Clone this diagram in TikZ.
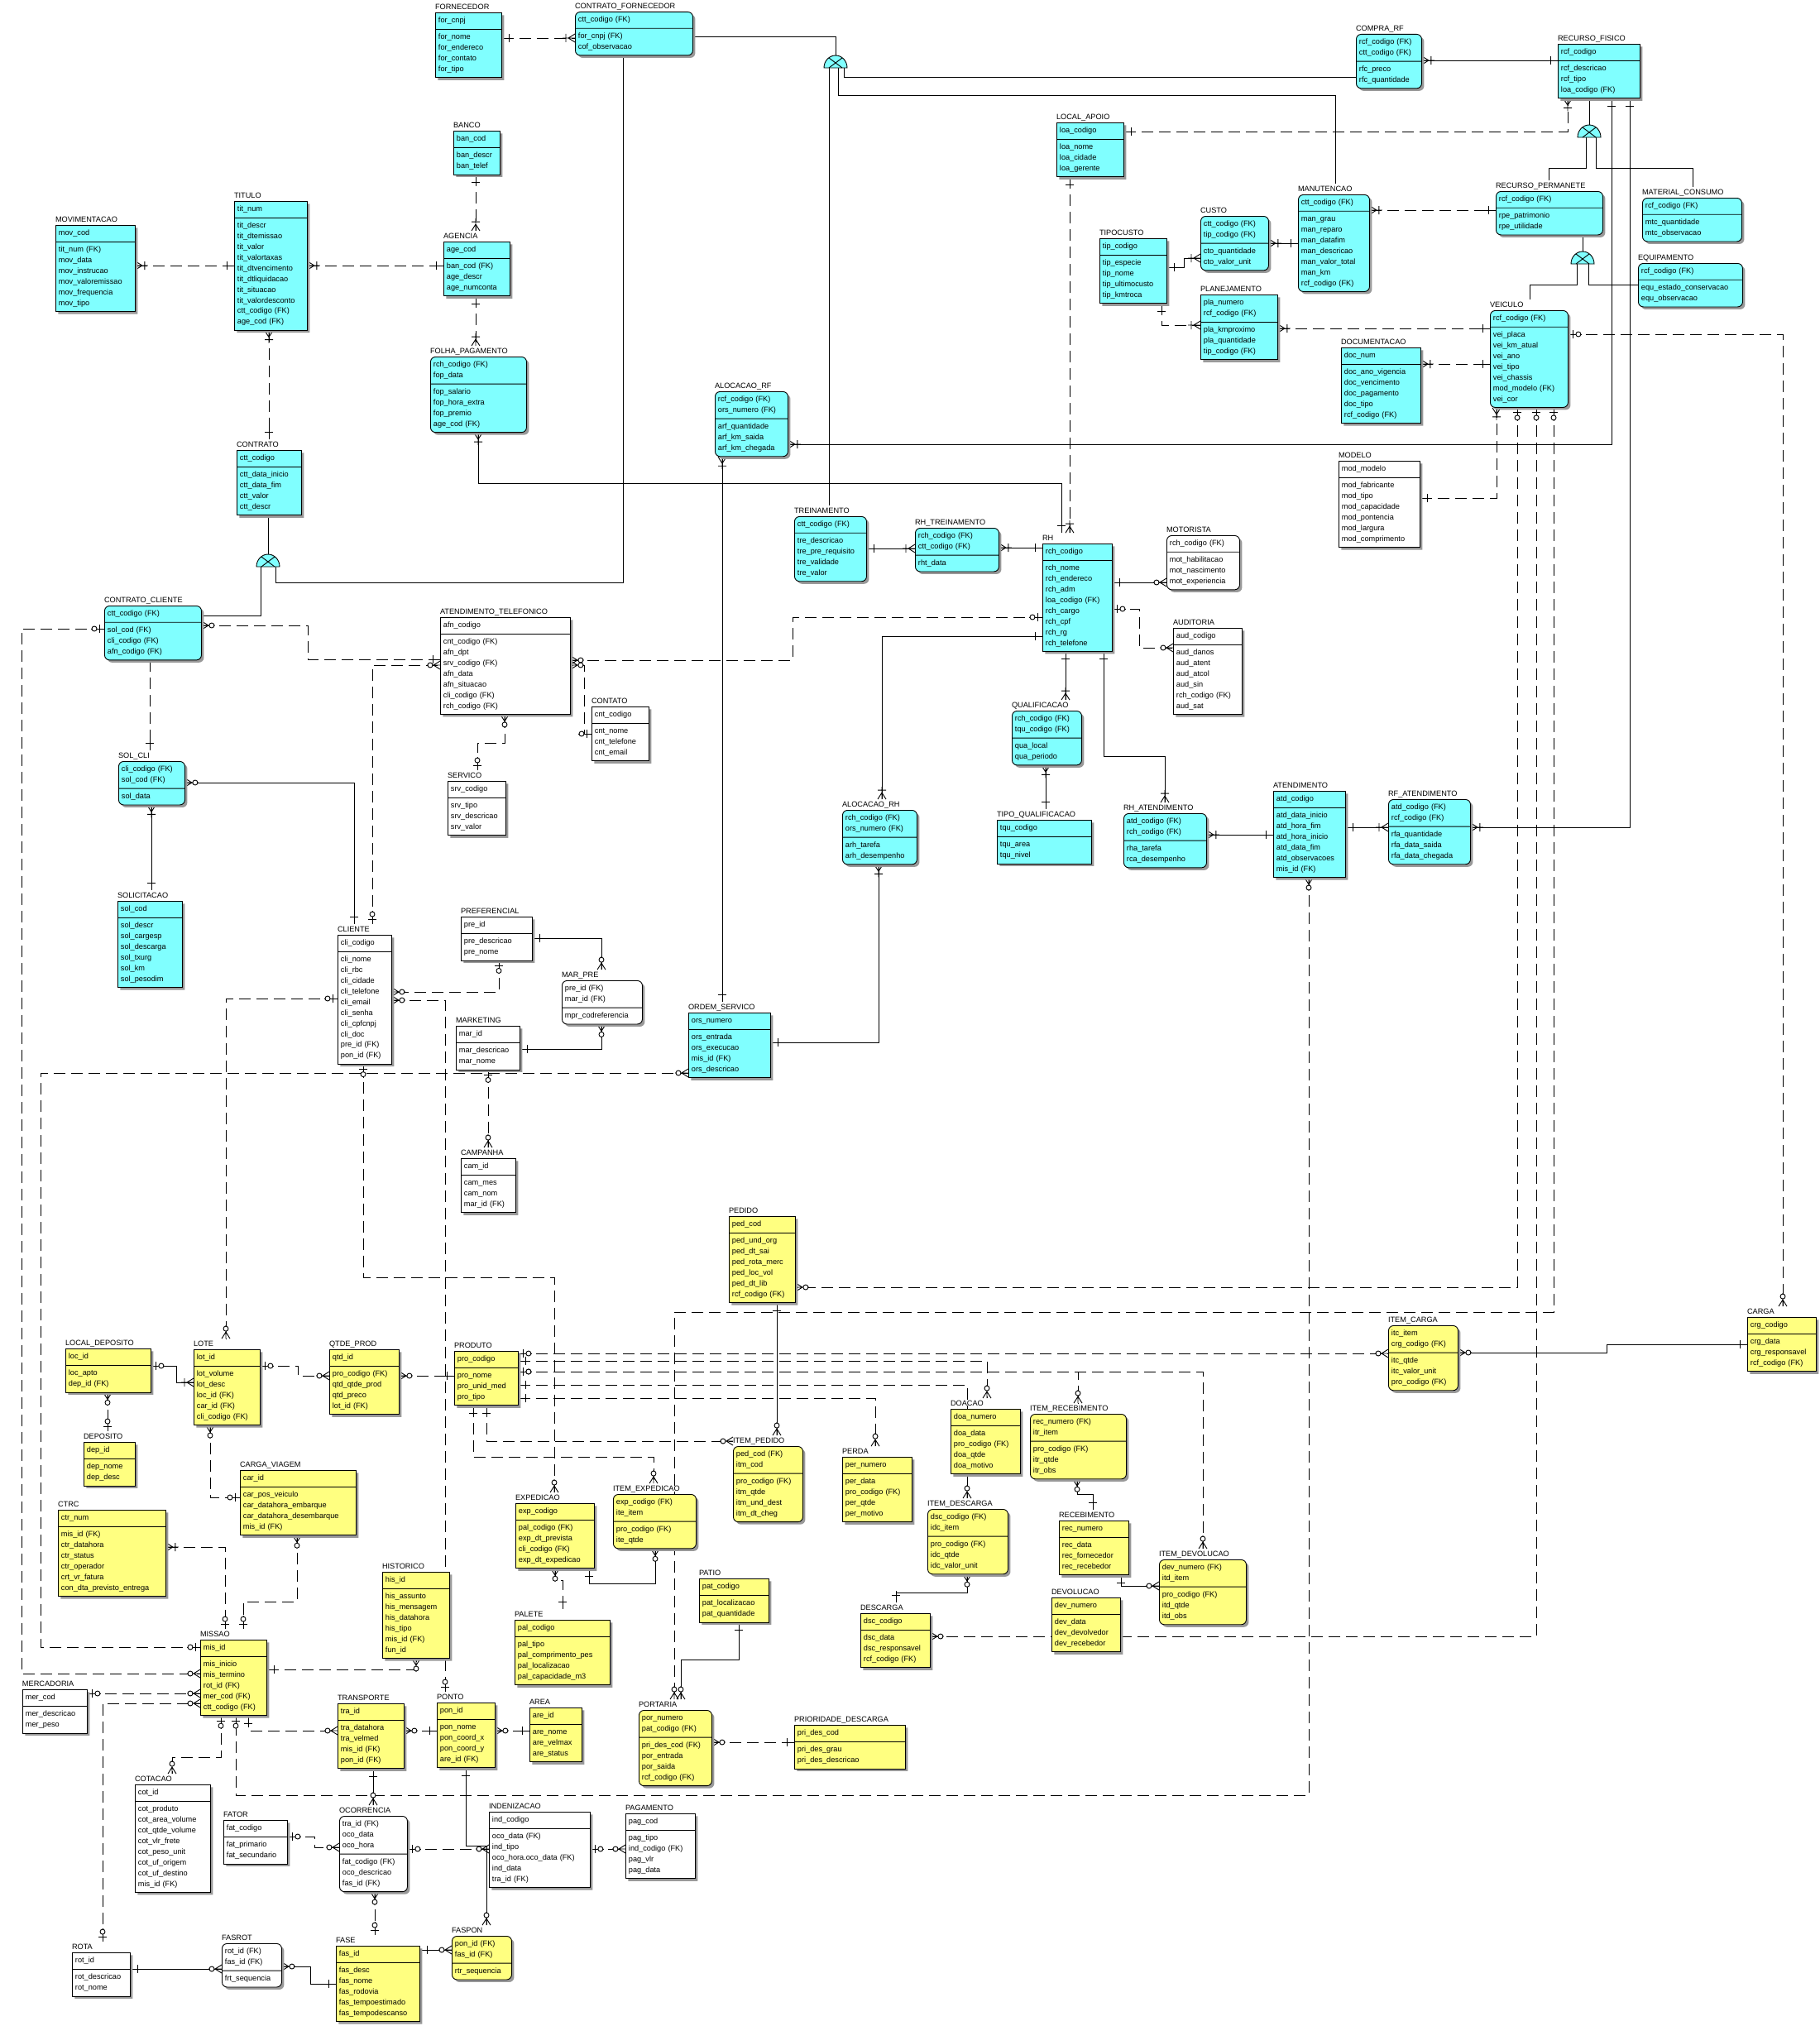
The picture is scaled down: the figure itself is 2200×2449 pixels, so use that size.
\documentclass[tikz,border=0pt]{standalone}
\usepackage{fontspec}
\setmainfont{Liberation Sans}
\usetikzlibrary{arrows.meta, shapes.multipart, shadows, backgrounds}

\definecolor{entcyan}{RGB}{128,255,255}
\definecolor{entyellow}{RGB}{255,255,128}
\newcommand{\entfont}{\fontsize{9.2}{12.9}\selectfont}

\pgfdeclarearrow{
  name = oneE,
  setup code = {\pgfarrowssettipend{0pt}\pgfarrowssetlineend{0pt}\pgfarrowssetbackend{-12pt}},
  drawing code = {\pgfsetdash{}{0pt}
    \pgfpathmoveto{\pgfqpoint{-14pt}{0pt}}\pgfpathlineto{\pgfqpoint{0pt}{0pt}}
    \pgfpathmoveto{\pgfqpoint{-9pt}{5pt}}\pgfpathlineto{\pgfqpoint{-9pt}{-5pt}}
    \pgfusepathqstroke}
}
\pgfdeclarearrow{
  name = onemanyE,
  setup code = {\pgfarrowssettipend{0pt}\pgfarrowssetlineend{0pt}\pgfarrowssetbackend{-14pt}},
  drawing code = {\pgfsetdash{}{0pt}
    \pgfpathmoveto{\pgfqpoint{-15pt}{0pt}}\pgfpathlineto{\pgfqpoint{0pt}{0pt}}
    \pgfpathmoveto{\pgfqpoint{0pt}{5pt}}\pgfpathlineto{\pgfqpoint{-8pt}{0pt}}\pgfpathlineto{\pgfqpoint{0pt}{-5pt}}
    \pgfpathmoveto{\pgfqpoint{-11pt}{5pt}}\pgfpathlineto{\pgfqpoint{-11pt}{-5pt}}
    \pgfusepathqstroke}
}
\pgfdeclarearrow{
  name = zeromanyE,
  setup code = {\pgfarrowssettipend{0pt}\pgfarrowssetlineend{0pt}\pgfarrowssetbackend{-16pt}},
  drawing code = {\pgfsetdash{}{0pt}
    \pgfpathmoveto{\pgfqpoint{-16pt}{0pt}}\pgfpathlineto{\pgfqpoint{0pt}{0pt}}
    \pgfpathmoveto{\pgfqpoint{0pt}{5pt}}\pgfpathlineto{\pgfqpoint{-8pt}{0pt}}\pgfpathlineto{\pgfqpoint{0pt}{-5pt}}
    \pgfusepathqstroke
    \pgfsetfillcolor{white}
    \pgfpathcircle{\pgfqpoint{-12pt}{0pt}}{3pt}
    \pgfusepathqfillstroke}
}
\pgfdeclarearrow{
  name = zerooneE,
  setup code = {\pgfarrowssettipend{0pt}\pgfarrowssetlineend{0pt}\pgfarrowssetbackend{-16pt}},
  drawing code = {\pgfsetdash{}{0pt}
    \pgfpathmoveto{\pgfqpoint{-16pt}{0pt}}\pgfpathlineto{\pgfqpoint{0pt}{0pt}}
    \pgfpathmoveto{\pgfqpoint{-6pt}{5pt}}\pgfpathlineto{\pgfqpoint{-6pt}{-5pt}}
    \pgfusepathqstroke
    \pgfsetfillcolor{white}
    \pgfpathcircle{\pgfqpoint{-12pt}{0pt}}{3pt}
    \pgfusepathqfillstroke}
}

\tikzset{
  ent/.style={rectangle split, rectangle split parts=2, draw, line width=0.9pt,
    inner xsep=3.5pt, inner ysep=3pt, align=left, font=\entfont,
    drop shadow={shadow xshift=3pt, shadow yshift=-3pt, fill=black!40, opacity=1}},
  cyanbox/.style={fill=entcyan},
  yellowbox/.style={fill=entyellow},
  whitebox/.style={fill=white},
  rbox/.style={rounded corners=6pt},
  ttl/.style={font=\entfont, inner sep=0pt, outer xsep=0pt, outer ysep=3pt},
  rel/.style={line width=0.9pt},
  idr/.style={rel},
  nid/.style={rel, dash pattern=on 14pt off 7pt},
}

\newcommand{\entbox}[7]{%
  \node[ent, #1, text width=#4pt, anchor=north west] (#2) at (#3)
    {\strut#6\strut\nodepart{two}\strut#7\strut};
  \node[ttl, anchor=base west] (#2-t) at ([yshift=3.5pt]#2.north west) {#5};
}
\newcommand{\subsym}[2]{%
  \coordinate (#1) at (#2);
  \draw[rel, fill=entcyan] ([xshift=-14pt]#1) arc[start angle=180, end angle=0, x radius=14pt, y radius=15pt] -- cycle;
  \draw[rel] ([xshift=-8pt]#1) -- ([xshift=8pt, yshift=12pt]#1)
             ([xshift=8pt]#1) -- ([xshift=-8pt, yshift=12pt]#1);
}

\begin{document}
\catcode`\_=12
\begin{tikzpicture}[x=1pt, y=-1pt]
\useasboundingbox (0,0) rectangle (2200,2449);

\entbox{cyanbox}{forn}{526,15}{73}{FORNECEDOR}{for_cnpj}{for_nome\\for_endereco\\for_contato\\for_tipo}
\entbox{cyanbox,rbox}{cforn}{695,14}{135}{CONTRATO_FORNECEDOR}{ctt_codigo (FK)}{for_cnpj (FK)\\cof_observacao}
\entbox{cyanbox}{banco}{548,158}{49}{BANCO}{ban_cod}{ban_descr\\ban_telef}
\entbox{cyanbox}{titulo}{283,243}{81}{TITULO}{tit_num}{tit_descr\\tit_dtemissao\\tit_valor\\tit_valortaxas\\tit_dtvencimento\\tit_dtliquidacao\\tit_situacao\\tit_valordesconto\\ctt_codigo (FK)\\age_cod (FK)}
\entbox{cyanbox}{movim}{67,272}{89}{MOVIMENTACAO}{mov_cod}{tit_num (FK)\\mov_data\\mov_instrucao\\mov_valoremissao\\mov_frequencia\\mov_tipo}
\entbox{cyanbox}{agencia}{536,292}{73}{AGENCIA}{age_cod}{ban_cod (FK)\\age_descr\\age_numconta}
\entbox{cyanbox,rbox}{folha}{520,431}{109}{FOLHA_PAGAMENTO}{rch_codigo (FK)\\fop_data}{fop_salario\\fop_hora_extra\\fop_premio\\age_cod (FK)}
\entbox{cyanbox}{contrato}{286,544}{71}{CONTRATO}{ctt_codigo}{ctt_data_inicio\\ctt_data_fim\\ctt_valor\\ctt_descr}
\entbox{cyanbox}{locap}{1277,148}{74}{LOCAL_APOIO}{loa_codigo}{loa_nome\\loa_cidade\\loa_gerente}
\entbox{cyanbox}{tipocusto}{1329,288}{74}{TIPOCUSTO}{tip_codigo}{tip_especie\\tip_nome\\tip_ultimocusto\\tip_kmtroca}
\entbox{cyanbox,rbox}{custo}{1451,261}{75}{CUSTO}{ctt_codigo (FK)\\tip_codigo (FK)}{cto_quantidade\\cto_valor_unit}
\entbox{cyanbox}{plan}{1451,356}{86}{PLANEJAMENTO}{pla_numero\\rcf_codigo (FK)}{pla_kmproximo\\pla_quantidade\\tip_codigo (FK)}
\entbox{cyanbox,rbox}{alocrf}{864,473}{81}{ALOCACAO_RF}{rcf_codigo (FK)\\ors_numero (FK)}{arf_quantidade\\arf_km_saida\\arf_km_chegada}
\entbox{cyanbox,rbox}{comprarf}{1639,41}{72}{COMPRA_RF}{rcf_codigo (FK)\\ctt_codigo (FK)}{rfc_preco\\rfc_quantidade}
\entbox{cyanbox}{recfis}{1883,53}{92}{RECURSO_FISICO}{rcf_codigo}{rcf_descricao\\rcf_tipo\\loa_codigo (FK)}
\entbox{cyanbox,rbox}{recperm}{1808,231}{122}{RECURSO_PERMANETE}{rcf_codigo (FK)}{rpe_patrimonio\\rpe_utilidade}
\entbox{cyanbox,rbox}{matcons}{1985,239}{113}{MATERIAL_CONSUMO}{rcf_codigo (FK)}{mtc_quantidade\\mtc_observacao}
\entbox{cyanbox,rbox}{equip}{1980,318}{119}{EQUIPAMENTO}{rcf_codigo (FK)}{equ_estado_conservacao\\equ_observacao}
\entbox{cyanbox,rbox}{manut}{1569,235}{79}{MANUTENCAO}{ctt_codigo (FK)}{man_grau\\man_reparo\\man_datafim\\man_descricao\\man_valor_total\\man_km\\rcf_codigo (FK)}
\entbox{cyanbox,rbox}{veiculo}{1801,375}{87}{VEICULO}{rcf_codigo (FK)}{vei_placa\\vei_km_atual\\vei_ano\\vei_tipo\\vei_chassis\\mod_modelo (FK)\\vei_cor}
\entbox{cyanbox}{docum}{1621,420}{89}{DOCUMENTACAO}{doc_num}{doc_ano_vigencia\\doc_vencimento\\doc_pagamento\\doc_tipo\\rcf_codigo (FK)}
\entbox{whitebox}{modelo}{1618,557}{91}{MODELO}{mod_modelo}{mod_fabricante\\mod_tipo\\mod_capacidade\\mod_pontencia\\mod_largura\\mod_comprimento}
\entbox{cyanbox,rbox}{cclient}{126,732}{110}{CONTRATO_CLIENTE}{ctt_codigo (FK)}{sol_cod (FK)\\cli_codigo (FK)\\afn_codigo (FK)}
\entbox{whitebox}{atftel}{532,746}{150}{ATENDIMENTO_TELEFONICO}{afn_codigo}{cnt_codigo (FK)\\afn_dpt\\srv_codigo (FK)\\afn_data\\afn_situacao\\cli_codigo (FK)\\rch_codigo (FK)}
\entbox{whitebox}{contato}{715,854}{62}{CONTATO}{cnt_codigo}{cnt_nome\\cnt_telefone\\cnt_email}
\entbox{whitebox}{servico}{541,944}{63}{SERVICO}{srv_codigo}{srv_tipo\\srv_descricao\\srv_valor}
\entbox{cyanbox,rbox}{solcli}{143,920}{73}{SOL_CLI}{cli_codigo (FK)\\sol_cod (FK)}{sol_data}
\entbox{cyanbox}{solic}{142,1089}{71}{SOLICITACAO}{sol_cod}{sol_descr\\sol_cargesp\\sol_descarga\\sol_txurg\\sol_km\\sol_pesodim}
\entbox{whitebox}{cliente}{408,1130}{58}{CLIENTE}{cli_codigo}{cli_nome\\cli_rbc\\cli_cidade\\cli_telefone\\cli_email\\cli_senha\\cli_cpfcnpj\\cli_doc\\pre_id (FK)\\pon_id (FK)}
\entbox{whitebox}{pref}{557,1108}{79}{PREFERENCIAL}{pre_id}{pre_descricao\\pre_nome}
\entbox{whitebox,rbox}{marpre}{679,1185}{90}{MAR_PRE}{pre_id (FK)\\mar_id (FK)}{mpr_codreferencia}
\entbox{whitebox}{marketing}{551,1240}{70}{MARKETING}{mar_id}{mar_descricao\\mar_nome}
\entbox{whitebox}{campanha}{557,1400}{59}{CAMPANHA}{cam_id}{cam_mes\\cam_nom\\mar_id (FK)}
\entbox{cyanbox,rbox}{treino}{960,624}{80}{TREINAMENTO}{ctt_codigo (FK)}{tre_descricao\\tre_pre_requisito\\tre_validade\\tre_valor}
\entbox{cyanbox,rbox}{rhtreino}{1106,638}{94}{RH_TREINAMENTO}{rch_codigo (FK)\\ctt_codigo (FK)}{rht_data}
\entbox{cyanbox}{rh}{1260,657}{77}{RH}{rch_codigo}{rch_nome\\rch_endereco\\rch_adm\\loa_codigo (FK)\\rch_cargo\\rch_cpf\\rch_rg\\rch_telefone}
\entbox{whitebox,rbox}{motorista}{1410,647}{81}{MOTORISTA}{rch_codigo (FK)}{mot_habilitacao\\mot_nascimento\\mot_experiencia}
\entbox{whitebox}{auditoria}{1418,759}{76}{AUDITORIA}{aud_codigo}{aud_danos\\aud_atent\\aud_atcol\\aud_sin\\rch_codigo (FK)\\aud_sat}
\entbox{cyanbox,rbox}{alocrh}{1018,979}{83}{ALOCACAO_RH}{rch_codigo (FK)\\ors_numero (FK)}{arh_tarefa\\arh_desempenho}
\entbox{cyanbox,rbox}{qualif}{1223,859}{77}{QUALIFICACAO}{rch_codigo (FK)\\tqu_codigo (FK)}{qua_local\\qua_periodo}
\entbox{cyanbox}{tipoqual}{1205,991}{107}{TIPO_QUALIFICACAO}{tqu_codigo}{tqu_area\\tqu_nivel}
\entbox{cyanbox,rbox}{rhatend}{1358,983}{93}{RH_ATENDIMENTO}{atd_codigo (FK)\\rch_codigo (FK)}{rha_tarefa\\rca_desempenho}
\entbox{cyanbox}{atend}{1539,956}{80}{ATENDIMENTO}{atd_codigo}{atd_data_inicio\\atd_hora_fim\\atd_hora_inicio\\atd_data_fim\\atd_observacoes\\mis_id (FK)}
\entbox{cyanbox,rbox}{rfatend}{1678,966}{92}{RF_ATENDIMENTO}{atd_codigo (FK)\\rcf_codigo (FK)}{rfa_quantidade\\rfa_data_saida\\rfa_data_chegada}
\entbox{cyanbox}{ordserv}{832,1224}{92}{ORDEM_SERVICO}{ors_numero}{ors_entrada\\ors_execucao\\mis_id (FK)\\ors_descricao}
\entbox{yellowbox,rbox}{itemcarga}{1678,1602}{77}{ITEM_CARGA}{itc_item\\crg_codigo (FK)}{itc_qtde\\itc_valor_unit\\pro_codigo (FK)}
\entbox{yellowbox}{carga}{2112,1592}{76}{CARGA}{crg_codigo}{crg_data\\crg_responsavel\\rcf_codigo (FK)}
\entbox{yellowbox}{locdep}{79,1630}{96}{LOCAL_DEPOSITO}{loc_id}{loc_apto\\dep_id (FK)}
\entbox{yellowbox}{lote}{234,1631}{73}{LOTE}{lot_id}{lot_volume\\lot_desc\\loc_id (FK)\\car_id (FK)\\cli_codigo (FK)}
\entbox{yellowbox}{qtdeprod}{398,1631}{77}{QTDE_PROD}{qtd_id}{pro_codigo (FK)\\qtd_qtde_prod\\qtd_preco\\lot_id (FK)}
\entbox{yellowbox}{produto}{549,1633}{70}{PRODUTO}{pro_codigo}{pro_nome\\pro_unid_med\\pro_tipo}
\entbox{yellowbox}{deposito}{101,1743}{55}{DEPOSITO}{dep_id}{dep_nome\\dep_desc}
\entbox{yellowbox}{cargaviagem}{290,1777}{133}{CARGA_VIAGEM}{car_id}{car_pos_veiculo\\car_datahora_embarque\\car_datahora_desembarque\\mis_id (FK)}
\entbox{yellowbox}{expedicao}{623,1817}{88}{EXPEDICAO}{exp_codigo}{pal_codigo (FK)\\exp_dt_prevista\\cli_codigo (FK)\\exp_dt_expedicao}
\entbox{yellowbox}{ctrc}{70,1825}{123}{CTRC}{ctr_num}{mis_id (FK)\\ctr_datahora\\ctr_status\\ctr_operador\\crt_vr_fatura\\con_dta_previsto_entrega}
\entbox{yellowbox}{pedido}{881,1470}{73}{PEDIDO}{ped_cod}{ped_und_org\\ped_dt_sai\\ped_rota_merc\\ped_loc_vol\\ped_dt_lib\\rcf_codigo (FK)}
\entbox{yellowbox,rbox}{itempedido}{886,1748}{77}{ITEM_PEDIDO}{ped_cod (FK)\\itm_cod}{pro_codigo (FK)\\itm_qtde\\itm_und_dest\\itm_dt_cheg}
\entbox{yellowbox}{perda}{1018,1761}{77}{PERDA}{per_numero}{per_data\\pro_codigo (FK)\\per_qtde\\per_motivo}
\entbox{yellowbox}{doacao}{1149,1703}{77}{DOACAO}{doa_numero}{doa_data\\pro_codigo (FK)\\doa_qtde\\doa_motivo}
\entbox{yellowbox,rbox}{itemreceb}{1245,1709}{109}{ITEM_RECEBIMENTO}{rec_numero (FK)\\itr_item}{pro_codigo (FK)\\itr_qtde\\itr_obs}
\entbox{yellowbox,rbox}{itemdesc}{1121,1824}{90}{ITEM_DESCARGA}{dsc_codigo (FK)\\idc_item}{pro_codigo (FK)\\idc_qtde\\idc_valor_unit}
\entbox{yellowbox}{receb}{1280,1838}{77}{RECEBIMENTO}{rec_numero}{rec_data\\rec_fornecedor\\rec_recebedor}
\entbox{yellowbox,rbox}{itemdevol}{1401,1885}{98}{ITEM_DEVOLUCAO}{dev_numero (FK)\\itd_item}{pro_codigo (FK)\\itd_qtde\\itd_obs}
\entbox{yellowbox}{devol}{1271,1931}{76}{DEVOLUCAO}{dev_numero}{dev_data\\dev_devolvedor\\dev_recebedor}
\entbox{yellowbox}{descarga}{1040,1950}{77}{DESCARGA}{dsc_codigo}{dsc_data\\dsc_responsavel\\rcf_codigo (FK)}
\entbox{yellowbox,rbox}{itemexp}{741,1806}{93}{ITEM_EXPEDICAO}{exp_codigo (FK)\\ite_item}{pro_codigo (FK)\\ite_qtde}
\entbox{yellowbox}{patio}{845,1908}{77}{PATIO}{pat_codigo}{pat_localizacao\\pat_quantidade}
\entbox{yellowbox,rbox}{portaria}{772,2067}{81}{PORTARIA}{por_numero\\pat_codigo (FK)}{pri_des_cod (FK)\\por_entrada\\por_saida\\rcf_codigo (FK)}
\entbox{yellowbox}{prioridade}{960,2085}{127}{PRIORIDADE_DESCARGA}{pri_des_cod}{pri_des_grau\\pri_des_descricao}
\entbox{yellowbox}{palete}{622,1958}{108}{PALETE}{pal_codigo}{pal_tipo\\pal_comprimento_pes\\pal_localizacao\\pal_capacidade_m3}
\entbox{yellowbox}{missao}{242,1982}{73}{MISSAO}{mis_id}{mis_inicio\\mis_termino\\rot_id (FK)\\mer_cod (FK)\\ctt_codigo (FK)}
\entbox{yellowbox}{historico}{462,1900}{74}{HISTORICO}{his_id}{his_assunto\\his_mensagem\\his_datahora\\his_tipo\\mis_id (FK)\\fun_id}
\entbox{whitebox}{mercadoria}{27,2042}{71}{MERCADORIA}{mer_cod}{mer_descricao\\mer_peso}
\entbox{yellowbox}{transporte}{408,2059}{73}{TRANSPORTE}{tra_id}{tra_datahora\\tra_velmed\\mis_id (FK)\\pon_id (FK)}
\entbox{yellowbox}{ponto}{528,2058}{63}{PONTO}{pon_id}{pon_nome\\pon_coord_x\\pon_coord_y\\are_id (FK)}
\entbox{yellowbox}{area}{640,2064}{56}{AREA}{are_id}{are_nome\\are_velmax\\are_status}
\entbox{whitebox,rbox}{ocorrencia}{410,2195}{75}{OCORRENCIA}{tra_id (FK)\\oco_data\\oco_hora}{fat_codigo (FK)\\oco_descricao\\fas_id (FK)}
\entbox{whitebox}{fator}{270,2200}{70}{FATOR}{fat_codigo}{fat_primario\\fat_secundario}
\entbox{whitebox}{indeniz}{591,2190}{115}{INDENIZACAO}{ind_codigo}{oco_data (FK)\\ind_tipo\\oco_hora.oco_data (FK)\\ind_data\\tra_id (FK)}
\entbox{whitebox}{pagamento}{756,2192}{77}{PAGAMENTO}{pag_cod}{pag_tipo\\ind_codigo (FK)\\pag_vlr\\pag_data}
\entbox{whitebox}{cotacao}{163,2157}{84}{COTACAO}{cot_id}{cot_produto\\cot_area_volume\\cot_qtde_volume\\cot_vlr_frete\\cot_peso_unit\\cot_uf_origem\\cot_uf_destino\\mis_id (FK)}
\entbox{whitebox}{rota}{87,2360}{63}{ROTA}{rot_id}{rot_descricao\\rot_nome}
\entbox{whitebox,rbox}{fasrot}{268,2349}{65}{FASROT}{rot_id (FK)\\fas_id (FK)}{frt_sequencia}
\entbox{yellowbox}{fase}{406,2352}{94}{FASE}{fas_id}{fas_desc\\fas_nome\\fas_rodovia\\fas_tempoestimado\\fas_tempodescanso}
\entbox{yellowbox,rbox}{faspon}{546,2340}{65}{FASPON}{pon_id (FK)\\fas_id (FK)}{rtr_sequencia}

\subsym{stcf}{1010,82}
\subsym{stct}{324,685}
\subsym{strf}{1921,166}
\subsym{strp}{1913,319}

\begin{scope}[on background layer]
\fill[white] (0,0) rectangle (2200,2449);
% subtypes
\draw[rel] (cforn.east |- 0,44) -| ([yshift=15pt]stcf);
\draw[rel] ([xshift=-8pt]stcf) -- (treino-t.north -| 1002,0);
\draw[rel] ([xshift=10pt]stcf) |- (comprarf.west |- 0,93);
\draw[rel] ([xshift=3pt]stcf) |- (1614,115) -- (manut-t.north -| 1614,0);
\draw[rel] (contrato.south -| 324,0) -- ([yshift=15pt]stct);
\draw[rel] ([xshift=-9pt]stct) |- (cclient.east |- 0,744);
\draw[rel] ([xshift=9pt]stct) |- (753,704) -- (cforn.south -| 753,0);
\draw[rel] (recfis.south -| 1921,0) -- ([yshift=15pt]strf);
\draw[rel] ([xshift=-4pt]strf) |- (1872,203) -- (recperm-t.north -| 1872,0);
\draw[rel] ([xshift=8pt]strf) |- (2046,203) -- (matcons-t.north -| 2046,0);
\draw[rel] (recperm.south -| 1913,0) -- ([yshift=15pt]strp);
\draw[rel] ([xshift=-7pt]strp) |- (1849,344) -- (veiculo-t.north -| 1849,0);
\draw[rel] ([xshift=7pt]strp) |- (equip.west |- 0,344);
% relationships
\draw[nid, {oneE}-{onemanyE}] (forn.east |- 0,46) -- (cforn.west |- 0,46);
\draw[nid, {onemanyE}-{oneE}] (movim.east |- 0,321) -- (titulo.west |- 0,321);
\draw[nid, {onemanyE}-{oneE}] (titulo.east |- 0,321) -- (agencia.west |- 0,321);
\draw[nid, {oneE}-{onemanyE}] (banco.south -| 575,0) -- (agencia-t.north -| 575,0);
\draw[nid, {oneE}-{onemanyE}] (agencia.south -| 575,0) -- (folha-t.north -| 575,0);
\draw[nid, {onemanyE}-{oneE}] (titulo.south -| 325,0) -- (contrato-t.north -| 325,0);
\draw[idr, {onemanyE}-{oneE}] (folha.south -| 578,0) |- (1283,584) -- (rh-t.north -| 1283,0);
\draw[nid, {oneE}-{onemanyE}] (locap.south -| 1293,0) -- (rh-t.north -| 1293,0);
\draw[nid, {oneE}-{onemanyE}] (locap.east |- 0,159) -| (recfis.south -| 1895,0);
\draw[idr, {onemanyE}-{oneE}] (comprarf.east |- 0,73) -- (recfis.west |- 0,73);
\draw[idr, {oneE}-{onemanyE}] (recfis.south -| 1948,0) |- (alocrf.east |- 0,537);
\draw[idr, {oneE}-{onemanyE}] (recfis.south -| 1970,0) |- (rfatend.east |- 0,1000);
\draw[idr, {oneE}-{onemanyE}] (tipocusto.east |- 0,323) -| (1431,312) -- (custo.west |- 0,312);
\draw[nid, {oneE}-{onemanyE}] (tipocusto.south -| 1404,0) |- (plan.west |- 0,393);
\draw[idr, {onemanyE}-{oneE}] (custo.east |- 0,294) -- (manut.west |- 0,294);
\draw[nid, {onemanyE}-{oneE}] (manut.east |- 0,254) -- (recperm.west |- 0,254);
\draw[nid, {onemanyE}-{oneE}] (plan.east |- 0,397) -- (veiculo.west |- 0,397);
\draw[nid, {onemanyE}-{oneE}] (docum.east |- 0,440) -- (veiculo.west |- 0,440);
\draw[nid, {oneE}-{onemanyE}] (modelo.east |- 0,602) -| (veiculo.south -| 1809,0);
\draw[nid, {zerooneE}-{zeromanyE}] (veiculo.east |- 0,404) -| (carga-t.north -| 2155,0);
\draw[nid, {zerooneE}-{zeromanyE}] (veiculo.south -| 1834,0) |- (pedido.east |- 0,1556);
\draw[nid, {zerooneE}-{zeromanyE}] (veiculo.south -| 1857,0) |- (descarga.east |- 0,1978);
\draw[nid, {zerooneE}-{zeromanyE}] (veiculo.south -| 1878,0) |- (815,1586) -- (portaria-t.north -| 815,0);
\draw[idr, {onemanyE}-{oneE}] (alocrf.south -| 873,0) -- (ordserv-t.north -| 873,0);
\draw[idr, {oneE}-{onemanyE}] (ordserv.east |- 0,1260) -| (alocrh.south -| 1062,0);
\draw[idr, {oneE}-{onemanyE}] (treino.east |- 0,663) -- (rhtreino.west |- 0,663);
\draw[idr, {onemanyE}-{oneE}] (rhtreino.east |- 0,662) -- (rh.west |- 0,662);
\draw[idr, {oneE}-{zeromanyE}] (rh.east |- 0,704) -- (motorista.west |- 0,704);
\draw[nid, {zerooneE}-{zeromanyE}] (rh.east |- 0,736) -| (1377,783) -- (auditoria.west |- 0,783);
\draw[idr, {oneE}-{onemanyE}] (rh.west |- 0,769) -| (alocrh-t.north -| 1066,0);
\draw[idr, {oneE}-{onemanyE}] (rh.south -| 1288,0) -- (qualif-t.north -| 1288,0);
\draw[idr, {onemanyE}-{oneE}] (qualif.south -| 1264,0) -- (tipoqual-t.north -| 1264,0);
\draw[idr, {oneE}-{onemanyE}] (rh.south -| 1334,0) |- (1408,914) -- (rhatend-t.north -| 1408,0);
\draw[idr, {onemanyE}-{oneE}] (rhatend.east |- 0,1009) -- (atend.west |- 0,1009);
\draw[idr, {oneE}-{onemanyE}] (atend.east |- 0,1000) -- (rfatend.west |- 0,1000);
\draw[nid, {zeromanyE}-{zerooneE}] (atend.south -| 1582,0) |- (285,2170) -- (missao.south -| 285,0);
\draw[nid, {zerooneE}-{zeromanyE}] (rh.west |- 0,746) -| (958,798) -- (atftel.east |- 0,798);
\draw[nid, {zerooneE}-{zeromanyE}] (contato.west |- 0,887) -| (706,804) -- (atftel.east |- 0,804);
\draw[nid, {zerooneE}-{zeromanyE}] (servico-t.north -| 577,0) |- (610,898) -- (atftel.south -| 610,0);
\draw[nid, {oneE}-{zeromanyE}] (atftel.west |- 0,797) -| (372,756) -- (cclient.east |- 0,756);
\draw[nid, {zerooneE}-{zeromanyE}] (cliente-t.north -| 450,0) |- (atftel.west |- 0,804);
\draw[nid, {zerooneE}-{zeromanyE}] (cclient.west |- 0,760) -| (26,2023) -- (missao.west |- 0,2023);
\draw[nid, -{oneE}] (cclient.south -| 181,0) -- (solcli-t.north -| 181,0);
\draw[idr, {zeromanyE}-{oneE}] (solcli.east |- 0,946) -| (cliente-t.north -| 428,0);
\draw[idr, {onemanyE}-{oneE}] (solcli.south -| 183,0) -- (solic-t.north -| 183,0);
\draw[idr, {oneE}-{zeromanyE}] (pref.east |- 0,1134) -| (marpre-t.north -| 727,0);
\draw[idr, {oneE}-{zeromanyE}] (marketing.east |- 0,1268) -| (marpre.south -| 727,0);
\draw[nid, {zerooneE}-{zeromanyE}] (pref.south -| 603,0) |- (cliente.east |- 0,1199);
\draw[nid, {zeromanyE}-{zerooneE}] (cliente.east |- 0,1209) -| (ponto-t.north -| 538,0);
\draw[nid, {zerooneE}-{zeromanyE}] (cliente.west |- 0,1207) -| (lote-t.north -| 273,0);
\draw[nid, {zerooneE}-{zeromanyE}] (cliente.south -| 439,0) |- (670,1544) -- (expedicao-t.north -| 670,0);
\draw[nid, {zerooneE}-{zeromanyE}] (marketing.south -| 590,0) -- (campanha-t.north -| 590,0);
\draw[nid, {zerooneE}-{zeromanyE}] (missao.west |- 0,1991) -| (49,1297) -- (ordserv.west |- 0,1297);
\draw[idr, {zerooneE}-{onemanyE}] (locdep.east |- 0,1651) -| (213,1671) -- (lote.west |- 0,1671);
\draw[nid, {zerooneE}-{zeromanyE}] (lote.east |- 0,1651) -| (360,1663) -- (qtdeprod.west |- 0,1663);
\draw[nid, {zeromanyE}-{oneE}] (qtdeprod.east |- 0,1663) -- (produto.west |- 0,1663);
\draw[nid, {zeromanyE}-{zerooneE}] (locdep.south -| 130,0) -- (deposito-t.north -| 130,0);
\draw[nid, {zeromanyE}-{zerooneE}] (lote.south -| 254,0) |- (cargaviagem.west |- 0,1810);
\draw[nid, {zerooneE}-{zeromanyE}] (produto.east |- 0,1636) -- (itemcarga.west |- 0,1636);
\draw[idr, {zeromanyE}-{oneE}] (itemcarga.east |- 0,1635) -| (1942,1625) -- (carga.west |- 0,1625);
\draw[nid, {oneE}-{zeromanyE}] (produto.east |- 0,1645) -| (doacao-t.north -| 1193,0);
\draw[nid, {zerooneE}-{zeromanyE}] (produto.east |- 0,1658) -| (itemdevol-t.north -| 1454,0);
\draw[nid, {zerooneE}-{zeromanyE}] (produto.east |- 0,1658) -| (itemreceb-t.north -| 1303,0);
\draw[nid, {oneE}-{zeromanyE}] (produto.east |- 0,1674) -| (itemdesc-t.north -| 1169,0);
\draw[nid, {oneE}-{zeromanyE}] (produto.east |- 0,1690) -| (perda-t.north -| 1058,0);
\draw[nid, {oneE}-{zeromanyE}] (produto.south -| 588,0) |- (itempedido-t.west |- 0,1742);
\draw[nid, {oneE}-{zeromanyE}] (produto.south -| 572,0) |- (790,1761) -- (itemexp-t.north -| 790,0);
\draw[idr, {oneE}-{zeromanyE}] (pedido.south -| 939,0) -- (itempedido-t.north -| 939,0);
\draw[idr, {zeromanyE}-{oneE}] (itemdesc.south -| 1169,0) |- (1083,1925) -- (descarga-t.north -| 1083,0);
\draw[idr, {zeromanyE}-{oneE}] (itemreceb.south -| 1302,0) |- (1321,1806) -- (receb-t.north -| 1321,0);
\draw[idr, {oneE}-{zeromanyE}] (receb.south -| 1355,0) |- (itemdevol.west |- 0,1917);
\draw[idr, {oneE}-{zeromanyE}] (expedicao.south -| 712,0) |- (792,1914) -- (itemexp.south -| 792,0);
\draw[nid, {zeromanyE}-{oneE}] (expedicao.south -| 671,0) |- (680,1910) -- (palete-t.north -| 680,0);
\draw[idr, {oneE}-{zeromanyE}] (patio.south -| 893,0) |- (823,2006) -- (portaria-t.north -| 823,0);
\draw[nid, {zeromanyE}-{oneE}] (portaria.east |- 0,2106) -- (prioridade.west |- 0,2106);
\draw[nid, {onemanyE}-{zerooneE}] (ctrc.east |- 0,1870) -| (missao-t.north -| 272,0);
\draw[nid, {zeromanyE}-{zerooneE}] (cargaviagem.south -| 359,0) |- (294,1936) -- (missao-t.north -| 294,0);
\draw[nid, {oneE}-{zeromanyE}] (missao.east |- 0,2018) -| (historico.south -| 503,0);
\draw[nid, {zerooneE}-{zeromanyE}] (mercadoria.east |- 0,2047) -- (missao.west |- 0,2047);
\draw[nid, {zerooneE}-{zeromanyE}] (rota-t.north -| 124,0) |- (missao.west |- 0,2059);
\draw[nid, {zerooneE}-{zeromanyE}] (missao.south -| 267,0) |- (208,2124) -- (cotacao-t.north -| 208,0);
\draw[nid, {oneE}-{zeromanyE}] (missao.south -| 300,0) |- (transporte.west |- 0,2092);
\draw[nid, {zeromanyE}-{oneE}] (transporte.east |- 0,2092) -- (ponto.west |- 0,2092);
\draw[nid, {zeromanyE}-{oneE}] (ponto.east |- 0,2092) -- (area.west |- 0,2092);
\draw[idr, {oneE}-{zeromanyE}] (transporte.south -| 451,0) -- (ocorrencia-t.north -| 451,0);
\draw[nid, {zerooneE}-{zeromanyE}] (fator.east |- 0,2220) -| (380,2233) -- (ocorrencia.west |- 0,2233);
\draw[nid, {zerooneE}-{zeromanyE}] (ocorrencia.east |- 0,2235) -- (indeniz.west |- 0,2235);
\draw[idr, {oneE}-{zeromanyE}] (ponto.south -| 563,0) |- (588,2231) -- (faspon-t.north -| 588,0);
\draw[nid, {zeromanyE}-{zerooneE}] (ocorrencia.south -| 453,0) -- (fase-t.north -| 453,0);
\draw[idr, {oneE}-{zeromanyE}] (fase.east |- 0,2357) -- (faspon.west |- 0,2357);
\draw[idr, {oneE}-{zeromanyE}] (rota.east |- 0,2380) -- (fasrot.west |- 0,2380);
\draw[idr, {zeromanyE}-{oneE}] (fasrot.east |- 0,2377) -| (375,2398) -- (fase.west |- 0,2398);
\draw[nid, {zerooneE}-{zeromanyE}] (indeniz.east |- 0,2235) -- (pagamento.west |- 0,2235);
\end{scope}
\end{tikzpicture}
\end{document}
